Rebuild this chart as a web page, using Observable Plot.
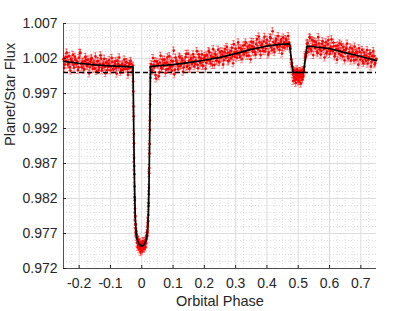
<!DOCTYPE html>
<html><head><meta charset="utf-8">
<script src="https://cdn.jsdelivr.net/npm/d3@7"></script>
<script src="https://cdn.jsdelivr.net/npm/@observablehq/plot@0.6"></script>
<style>html,body{margin:0;padding:0;background:#fff} svg{display:block}</style>
</head><body><div id="chart"></div>
<script>
const phase = [
 -0.250,-0.246,-0.242,-0.238,-0.234,-0.230,-0.226,-0.222,-0.218,-0.214,
 -0.210,-0.206,-0.202,-0.198,-0.194,-0.190,-0.186,-0.182,-0.178,-0.174,
 -0.170,-0.166,-0.162,-0.158,-0.154,-0.150,-0.146,-0.142,-0.138,-0.134,
 -0.130,-0.126,-0.122,-0.118,-0.114,-0.110,-0.106,-0.102,-0.098,-0.094,
 -0.090,-0.086,-0.082,-0.078,-0.074,-0.070,-0.066,-0.062,-0.058,-0.054,
 -0.050,-0.046,-0.042,-0.038,-0.034,-0.030,
 -0.0280,-0.0275,-0.0270,-0.0265,-0.0260,-0.0255,-0.0250,-0.0245,-0.0240,-0.0235,
 -0.0230,-0.0225,-0.0220,-0.0215,-0.0210,-0.0205,-0.0200,-0.0195,-0.0190,-0.0185,
 -0.0180,-0.0175,
 -0.017,-0.016,-0.015,-0.014,-0.013,-0.012,-0.011,-0.010,-0.009,-0.008,
 -0.007,-0.006,-0.005,-0.004,-0.003,-0.002,-0.001,0.000,0.001,0.002,
 0.003,0.004,0.005,0.006,0.007,0.008,0.009,0.010,0.011,0.012,
 0.013,0.014,0.015,0.016,0.017,
 0.0175,0.0180,0.0185,0.0190,0.0195,0.0200,0.0205,0.0210,0.0215,0.0220,
 0.0225,0.0230,0.0235,0.0240,0.0245,0.0250,0.0255,0.0260,0.0265,0.0270,
 0.0275,0.0280,
 0.030,0.034,0.038,0.042,0.046,0.050,0.054,0.058,0.062,0.066,
 0.070,0.074,0.078,0.082,0.086,0.090,0.094,0.098,0.102,0.106,
 0.110,0.114,0.118,0.122,0.126,0.130,0.134,0.138,0.142,0.146,
 0.150,0.154,0.158,0.162,0.166,0.170,0.174,0.178,0.182,0.186,
 0.190,0.194,0.198,0.202,0.206,0.210,0.214,0.218,0.222,0.226,
 0.230,0.234,0.238,0.242,0.246,0.250,0.254,0.258,0.262,0.266,
 0.270,0.274,0.278,0.282,0.286,0.290,0.294,0.298,0.302,0.306,
 0.310,0.314,0.318,0.322,0.326,0.330,0.334,0.338,0.342,0.346,
 0.350,0.354,0.358,0.362,0.366,0.370,0.374,0.378,0.382,0.386,
 0.390,0.394,0.398,0.402,0.406,0.410,0.414,0.418,0.422,0.426,
 0.430,0.434,0.438,0.442,0.446,0.450,0.454,0.458,0.462,0.466,
 0.470,
 0.474,0.477,0.480,0.483,0.485,0.487,0.489,0.491,0.493,0.495,
 0.497,0.499,0.501,0.503,0.505,0.507,0.509,0.511,0.513,0.515,
 0.517,0.520,0.523,0.526,
 0.530,0.534,0.538,0.542,0.546,0.550,0.554,0.558,0.562,0.566,
 0.570,0.574,0.578,0.582,0.586,0.590,0.594,0.598,0.602,0.606,
 0.610,0.614,0.618,0.622,0.626,0.630,0.634,0.638,0.642,0.646,
 0.650,0.654,0.658,0.662,0.666,0.670,0.674,0.678,0.682,0.686,
 0.690,0.694,0.698,0.702,0.706,0.710,0.714,0.718,0.722,0.726,
 0.730,0.734,0.738,0.742,0.746,0.750,
 // interleaved samples
 -0.248,-0.244,-0.240,-0.236,-0.232,-0.228,-0.224,-0.220,-0.216,-0.212,
 -0.208,-0.204,-0.200,-0.196,-0.192,-0.188,-0.184,-0.180,-0.176,-0.172,
 -0.168,-0.164,-0.160,-0.156,-0.152,-0.148,-0.144,-0.140,-0.136,-0.132,
 -0.128,-0.124,-0.120,-0.116,-0.112,-0.108,-0.104,-0.100,-0.096,-0.092,
 -0.088,-0.084,-0.080,-0.076,-0.072,-0.068,-0.064,-0.060,-0.056,-0.052,
 -0.048,-0.044,-0.040,-0.036,-0.032,
 0.032,0.036,0.040,0.044,0.048,0.052,0.056,0.060,0.064,0.068,
 0.072,0.076,0.080,0.084,0.088,0.092,0.096,0.100,0.104,0.108,
 0.112,0.116,0.120,0.124,0.128,0.132,0.136,0.140,0.144,0.148,
 0.152,0.156,0.160,0.164,0.168,0.172,0.176,0.180,0.184,0.188,
 0.192,0.196,0.200,0.204,0.208,0.212,0.216,0.220,0.224,0.228,
 0.232,0.236,0.240,0.244,0.248,0.252,0.256,0.260,0.264,0.268,
 0.272,0.276,0.280,0.284,0.288,0.292,0.296,0.300,0.304,0.308,
 0.312,0.316,0.320,0.324,0.328,0.332,0.336,0.340,0.344,0.348,
 0.352,0.356,0.360,0.364,0.368,0.372,0.376,0.380,0.384,0.388,
 0.392,0.396,0.400,0.404,0.408,0.412,0.416,0.420,0.424,0.428,
 0.432,0.436,0.440,0.444,0.448,0.452,0.456,0.460,0.464,0.468,
 0.4755,0.4785,0.4815,
 0.484,0.486,0.488,0.490,0.492,0.494,0.496,0.498,0.500,0.502,
 0.504,0.506,0.508,0.510,0.512,0.514,0.516,
 0.5185,0.5215,0.5245,0.5275,
 0.532,0.536,0.540,0.544,0.548,0.552,0.556,0.560,0.564,0.568,
 0.572,0.576,0.580,0.584,0.588,0.592,0.596,0.600,0.604,0.608,
 0.612,0.616,0.620,0.624,0.628,0.632,0.636,0.640,0.644,0.648,
 0.652,0.656,0.660,0.664,0.668,0.672,0.676,0.680,0.684,0.688,
 0.692,0.696,0.700,0.704,0.708,0.712,0.716,0.720,0.724,0.728,
 0.732,0.736,0.740,0.744,0.748
];
const flux = [
 1.00190,1.00113,1.00168,1.00221,1.00131,1.00074,1.00187,1.00149,1.00109,1.00225,
 1.00128,1.00157,1.00073,1.00281,1.00124,1.00143,1.00056,1.00159,1.00182,1.00096,
 1.00127,1.00075,1.00187,1.00099,1.00140,1.00055,1.00112,1.00158,1.00036,1.00123,
 1.00199,1.00065,1.00111,1.00080,1.00143,1.00033,1.00121,1.00095,1.00082,1.00151,
 1.00044,1.00124,1.00062,1.00169,1.00081,1.00102,1.00035,1.00124,1.00045,1.00104,
 1.00148,1.00047,1.00088,1.00063,1.00123,1.00070,
 1.00100,0.99870,0.99730,0.99515,0.99375,0.99125,0.98988,0.98777,0.98665,0.98547,
 0.98373,0.98215,0.98178,0.98057,0.97940,0.97953,0.97835,0.97828,0.97725,0.97765,
 0.97705,0.97730,
 0.97650,0.97685,0.97570,0.97620,0.97505,0.97606,0.97532,0.97613,0.97549,0.97475,
 0.97556,0.97507,0.97573,0.97434,0.97515,0.97543,0.97467,0.97525,0.97447,0.97553,
 0.97500,0.97589,0.97488,0.97522,0.97586,0.97480,0.97554,0.97528,0.97597,0.97501,
 0.97600,0.97560,0.97665,0.97630,0.97665,
 0.97670,0.97735,0.97710,0.97800,0.97808,0.97885,0.97873,0.97965,0.98092,0.98133,
 0.98260,0.98353,0.98562,0.98635,0.98842,0.98978,0.99180,0.99315,0.99545,0.99685,
 0.99924,1.00078,
 1.00119,1.00035,1.00106,1.00162,0.99914,1.00115,0.99946,1.00143,1.00069,1.00185,
 1.00092,1.00138,1.00040,1.00216,1.00112,1.00069,1.00170,1.00091,1.00313,1.00040,
 1.00168,1.00120,1.00087,1.00214,1.00112,1.00169,1.00071,1.00148,1.00266,1.00093,
 1.00165,1.00058,1.00201,1.00143,1.00221,1.00124,1.00167,1.00110,1.00257,1.00145,
 1.00203,1.00101,1.00194,1.00237,1.00140,1.00183,1.00306,1.00165,1.00238,1.00106,
 1.00215,1.00268,1.00171,1.00214,1.00153,1.00296,1.00210,1.00255,1.00179,1.00333,
 1.00218,1.00282,1.00171,1.00261,1.00310,1.00229,1.00404,1.00223,1.00292,1.00262,
 1.00352,1.00222,1.00327,1.00296,1.00261,1.00396,1.00286,1.00366,1.00240,1.00340,
 1.00440,1.00299,1.00363,1.00287,1.00405,1.00339,1.00513,1.00307,1.00391,1.00345,
 1.00443,1.00302,1.00421,1.00384,1.00287,1.00504,1.00356,1.00589,1.00331,1.00414,
 1.00481,1.00358,1.00411,1.00378,1.00469,1.00360,1.00436,1.00392,1.00458,1.00374,
 1.00430,
 1.00375,1.00194,1.00137,0.99970,1.00025,0.99930,0.99990,0.99890,1.00015,0.99950,
 0.99910,1.00005,0.99960,0.99880,0.99980,1.00020,0.99940,0.99995,0.99900,0.99965,
 1.00010,1.00083,1.00251,1.00274,
 1.00422,1.00345,1.00493,1.00311,1.00385,1.00448,1.00346,1.00398,1.00276,1.00414,
 1.00367,1.00310,1.00447,1.00335,1.00378,1.00276,1.00403,1.00341,1.00303,1.00473,
 1.00304,1.00375,1.00265,1.00336,1.00386,1.00267,1.00308,1.00398,1.00229,1.00319,
 1.00275,1.00345,1.00226,1.00286,1.00357,1.00232,1.00298,1.00173,1.00274,1.00299,
 1.00219,1.00345,1.00185,1.00236,1.00161,1.00286,1.00197,1.00242,1.00127,1.00218,
 1.00278,1.00153,1.00184,1.00229,1.00134,1.00195,
 // interleaved samples
 1.00064,1.00217,1.00285,1.00112,1.00235,1.00028,1.00166,1.00253,1.00071,1.00184,
 1.00122,1.00034,1.00207,1.00280,1.00074,1.00157,1.00040,1.00223,1.00097,1.00185,
 0.99988,1.00156,1.00205,1.00053,1.00121,1.00230,1.00019,1.00162,1.00071,1.00245,
 1.00029,1.00127,1.00196,0.99990,1.00149,1.00077,1.00176,1.00030,1.00209,1.00048,
 1.00097,1.00161,0.99985,1.00124,1.00214,1.00008,1.00102,1.00036,1.00185,1.00054,
 1.00143,0.99967,1.00127,1.00166,1.00011,
 1.00020,1.00206,1.00072,0.99963,1.00155,1.00121,1.00002,1.00239,1.00055,1.00111,
 1.00183,0.99994,1.00141,1.00047,1.00233,1.00095,1.00026,1.00162,0.99974,1.00212,
 1.00139,1.00046,1.00228,1.00096,1.00193,1.00010,1.00132,1.00220,1.00082,1.00269,
 1.00052,1.00185,1.00122,1.00260,1.00088,1.00171,1.00304,1.00061,1.00219,1.00132,
 1.00260,1.00093,1.00206,1.00054,1.00252,1.00175,1.00288,1.00132,1.00215,1.00333,
 1.00107,1.00250,1.00168,1.00326,1.00145,1.00223,1.00303,1.00112,1.00291,1.00216,
 1.00365,1.00159,1.00284,1.00203,1.00352,1.00132,1.00291,1.00340,1.00210,1.00430,
 1.00255,1.00345,1.00189,1.00384,1.00289,1.00429,1.00239,1.00328,1.00388,1.00188,
 1.00372,1.00436,1.00295,1.00254,1.00477,1.00331,1.00430,1.00249,1.00413,1.00307,
 1.00510,1.00339,1.00468,1.00256,1.00398,1.00490,1.00318,1.00435,1.00293,1.00455,
 1.00382,1.00520,1.00322,1.00439,1.00270,1.00501,1.00357,1.00478,1.00384,1.00520,
 1.00340,1.00118,1.00086,
 0.99880,1.00030,0.99920,1.00010,0.99850,0.99960,1.00045,0.99900,0.99980,0.99870,
 1.00020,0.99930,0.99840,1.00000,0.99910,1.00035,0.99940,
 1.00012,1.00225,1.00228,1.00411,
 1.00296,1.00504,1.00332,1.00465,1.00249,1.00387,1.00434,1.00297,1.00505,1.00333,
 1.00256,1.00408,1.00361,1.00214,1.00432,1.00299,1.00462,1.00264,1.00370,1.00321,
 1.00427,1.00232,1.00378,1.00183,1.00334,1.00415,1.00245,1.00296,1.00366,1.00172,
 1.00327,1.00413,1.00203,1.00284,1.00169,1.00340,1.00225,1.00371,1.00186,1.00281,
 1.00112,1.00297,1.00233,1.00323,1.00133,1.00244,1.00164,1.00319,1.00180,1.00265,
 1.00085,1.00236,1.00306,1.00116,1.00187
];
const fluxErr = 0.0005;

// Best-fit model curve
const modelPhase = [-0.25,-0.20,-0.15,-0.10,-0.05,-0.028,-0.027,-0.0255,-0.024,-0.0225,-0.021,-0.019,-0.017,-0.013,-0.008,-0.003,0,
  0.003,0.008,0.013,0.017,0.019,0.021,0.0225,0.024,0.0255,0.027,0.028,0.05,0.10,0.15,0.20,0.25,0.30,0.35,0.40,0.44,0.472,
  0.483,0.517,0.528,0.55,0.60,0.65,0.70,0.75];
const modelFlux = [1.00160,1.00132,1.00110,1.00094,1.00083,1.00080,0.99720,0.99150,0.98650,0.98250,0.97960,0.97770,0.97670,0.97590,0.97545,0.97525,0.97520,
  0.97525,0.97545,0.97590,0.97670,0.97770,0.97960,0.98250,0.98650,0.99150,0.99720,1.00088,1.00095,1.00112,1.00140,1.00175,1.00216,1.00270,1.00330,1.00378,1.00402,1.00410,
  1.00000,1.00000,1.00378,1.00368,1.00340,1.00285,1.00228,1.00170];

const baseline = 1.0;
const xTicks = [-0.2,-0.1,0,0.1,0.2,0.3,0.4,0.5,0.6,0.7];
const yTicks = [0.972,0.977,0.982,0.987,0.992,0.997,1.002,1.007];
const xDomain = [-0.25, 0.75];
const yDomain = [0.972, 1.007];

const obs = phase.map((p, i) => ({phase: p, flux: flux[i], lo: flux[i] - fluxErr, hi: flux[i] + fluxErr}));
const model = modelPhase.map((p, i) => ({phase: p, flux: modelFlux[i]}));
const xMinor = d3.range(1, 40).map(i => xDomain[0] + i * 0.025).filter(v => !xTicks.some(t => Math.abs(t - v) < 1e-9));
const yMinor = d3.range(0, 36).map(i => yDomain[0] + i * 0.001).filter(v => !yTicks.some(t => Math.abs(t - v) < 1e-9));
const cap = 0.0045;
const axisColor = "#262626";
const barStyle = {stroke: "red", strokeOpacity: 0.5, strokeWidth: 1, clip: true};

const chart = Plot.plot({
  width: 415, height: 311,
  marginLeft: 63, marginRight: 39, marginTop: 23, marginBottom: 43,
  x: {domain: xDomain, label: null},
  y: {domain: yDomain, label: null},
  style: {fontFamily: "'Liberation Sans', Arial, sans-serif", fontSize: "14px", color: axisColor, background: "white"},
  marks: [
    Plot.ruleX(xMinor, {stroke: "#d2d2d2", strokeDasharray: "1,2", strokeWidth: 0.7}),
    Plot.ruleY(yMinor, {stroke: "#d2d2d2", strokeDasharray: "1,2", strokeWidth: 0.7}),
    Plot.ruleX(xTicks, {stroke: "#dcdcdc", strokeWidth: 1}),
    Plot.ruleY(yTicks, {stroke: "#dcdcdc", strokeWidth: 1}),
    Plot.ruleX(obs, {x: "phase", y1: "lo", y2: "hi", ...barStyle}),
    Plot.ruleY(obs, {y: "hi", x1: d => d.phase - cap, x2: d => d.phase + cap, ...barStyle}),
    Plot.ruleY(obs, {y: "lo", x1: d => d.phase - cap, x2: d => d.phase + cap, ...barStyle}),
    Plot.dot(obs, {x: "phase", y: "flux", r: 1.35, fill: "red", stroke: "none"}),
    Plot.ruleY([baseline], {stroke: "black", strokeWidth: 1.6, strokeDasharray: "5,3"}),
    Plot.line(model, {x: "phase", y: "flux", stroke: "black", strokeWidth: 1.7}),
    Plot.ruleX([xDomain[0]], {stroke: axisColor, strokeWidth: 0.8}),
    Plot.ruleY([yDomain[0]], {stroke: axisColor, strokeWidth: 0.8}),
    Plot.axisX({ticks: xTicks, tickFormat: d => String(d), tickSize: -3, tickPadding: 13, label: null, stroke: axisColor, fill: axisColor}),
    Plot.axisY({ticks: yTicks, tickFormat: d => d.toFixed(3), tickSize: -3, tickPadding: 9, label: null, stroke: axisColor, fill: axisColor}),
    Plot.text(["Orbital Phase"], {frameAnchor: "bottom", dy: 37, fontSize: 14.5, fill: axisColor}),
    Plot.text(["Planet/Star Flux"], {frameAnchor: "left", dx: -53, rotate: -90, fontSize: 14.5, fill: axisColor})
  ]
});
document.getElementById("chart").appendChild(chart);
</script>
</body></html>
